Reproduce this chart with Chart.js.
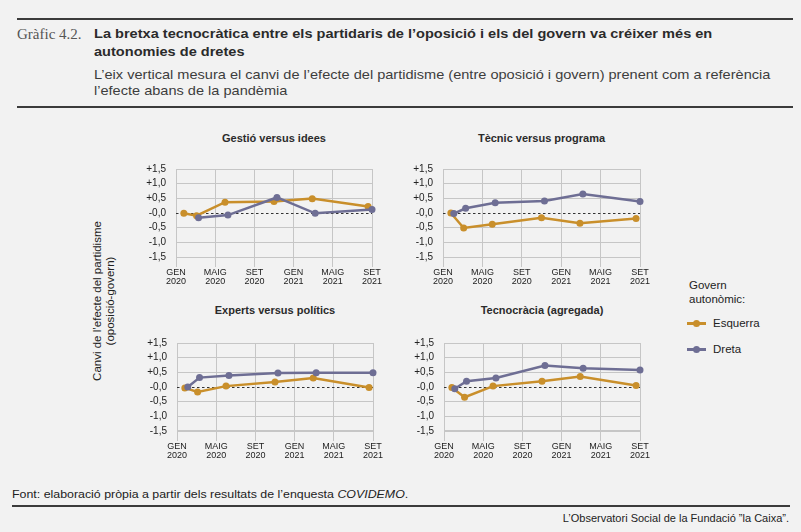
<!DOCTYPE html>
<html lang="ca">
<head>
<meta charset="UTF-8">
<title>Gràfic 4.2 - La bretxa tecnocràtica</title>
<script src="https://cdn.jsdelivr.net/npm/chart.js@4.4.0/dist/chart.umd.min.js"></script>
<style>
  html, body { margin: 0; padding: 0; }
  body {
    width: 801px; height: 532px; position: relative; overflow: hidden;
    background: #f2f2f2; color: #222;
    font-family: "Liberation Sans", Arial, sans-serif;
  }
  .txt { position: absolute; white-space: nowrap; }
  .rule { position: absolute; height: 2px; background: #3b3b3b; }
  .num { font-family: "Liberation Serif", "DejaVu Serif", serif; font-size: 15px; color: #555; line-height: 18px; }
  .title { font-weight: bold; font-size: 13.5px; color: #2b2b2b; line-height: 18px; }
  .sub { font-size: 13.5px; color: #3d3d3d; line-height: 16px; }
  .ptitle { position: absolute; font-weight: bold; font-size: 11px; color: #2b2b2b; text-align: center; line-height: 14px; }
  .panel { position: absolute; }
  .ytitle {
    position: absolute; left: 104px; top: 301px; width: 200px;
    transform: translate(-50%, -50%) rotate(-90deg);
    text-align: center; font-size: 11.5px; line-height: 13px; color: #222;
  }
  .leg { font-size: 11.5px; color: #222; line-height: 14px; }
  .legline { position: absolute; height: 2.5px; width: 19px; }
  .legdot { position: absolute; width: 7px; height: 7px; border-radius: 50%; }
  .foot { font-size: 11px; color: #222; line-height: 14px; }
</style>
</head>
<body>

<!-- Header -->
<div class="rule" style="left:17px; top:18px; width:776px;"></div>
<div class="txt num" style="left:17px; top:25px;">Gràfic 4.2.</div>
<div class="txt title fit" data-w="618" style="left:94px; top:25px;">La bretxa tecnocràtica entre els partidaris de l’oposició i els del govern va créixer més en</div>
<div class="txt title fit2" style="left:94px; top:43px;">autonomies de dretes</div>
<div class="txt sub fit" data-w="676" style="left:94px; top:67px;">L’eix vertical mesura el canvi de l’efecte del partidisme (entre oposició i govern) prenent com a referència</div>
<div class="txt sub fit2" style="left:94px; top:83px;">l’efecte abans de la pandèmia</div>
<div class="rule" style="left:17px; top:106px; width:776px;"></div>

<!-- Panels -->
<div class="ptitle" style="left:176px; top:131px; width:196px;">Gestió versus idees</div>
<div class="ptitle" style="left:443px; top:131px; width:197px;">Tècnic versus programa</div>
<div class="ptitle" style="left:177px; top:303px; width:196px;">Experts versus polítics</div>
<div class="ptitle" style="left:444px; top:303px; width:196px;">Tecnocràcia (agregada)</div>

<div class="panel" id="p1"><canvas id="c1" width="266" height="129"></canvas></div>
<div class="panel" id="p2"><canvas id="c2" width="267" height="129"></canvas></div>
<div class="panel" id="p3"><canvas id="c3" width="266" height="129"></canvas></div>
<div class="panel" id="p4"><canvas id="c4" width="266" height="129"></canvas></div>

<div class="ytitle">Canvi de l’efecte del partidisme<br>(oposició-govern)</div>

<!-- Legend -->
<div class="txt leg" style="left:689px; top:278px;">Govern</div>
<div class="txt leg" style="left:689px; top:292px;">autonòmic:</div>
<div class="legline" style="left:687px; top:322px; background:#c98f2b;"></div>
<div class="legdot" style="left:693px; top:320px; background:#c98f2b;"></div>
<div class="txt leg" style="left:713px; top:316px;">Esquerra</div>
<div class="legline" style="left:687px; top:348px; background:#6e6e94;"></div>
<div class="legdot" style="left:693px; top:346px; background:#6e6e94;"></div>
<div class="txt leg" style="left:713px; top:342px;">Dreta</div>

<!-- Footer -->
<div class="txt foot fit" data-w="396" style="left:12px; top:487px;">Font: elaboració pròpia a partir dels resultats de l’enquesta <i>COVIDEMO</i>.</div>
<div class="rule" style="left:12px; top:505px; width:778px;"></div>
<div class="txt foot" style="right:12px; top:511px;">L’Observatori Social de la Fundació ”la Caixa”.</div>

<script>
// x axis: months since January 2020
const monthTicks = [0, 4, 8, 12, 16, 20];
const tickLabels = [['GEN', '2020'], ['MAIG', '2020'], ['SET', '2020'], ['GEN', '2021'], ['MAIG', '2021'], ['SET', '2021']];
const yTicks = [-1.5, -1, -0.5, 0, 0.5, 1, 1.5];
const yTickLabels = ['-1,5', '-1,0', '-0,5', '-0,0', '+0,5', '+1,0', '+1,5'];

// survey waves (month position) per group
const esquerraMonths = [0.8, 2.1, 5.0, 10.0, 13.9, 19.6];
const dretaMonths = [1.1, 2.3, 5.3, 10.3, 14.2, 20.0];

const gestioEsquerra = [-0.01, -0.09, 0.37, 0.39, 0.49, 0.22];
const gestioDreta = [null, -0.16, -0.07, 0.53, -0.01, 0.12];
const tecnicEsquerra = [0.0, -0.51, -0.38, -0.16, -0.35, -0.19];
const tecnicDreta = [-0.02, 0.16, 0.35, 0.41, 0.65, 0.39];
const expertsEsquerra = [-0.03, -0.17, 0.03, 0.17, 0.31, -0.02];
const expertsDreta = [0.0, 0.32, 0.39, 0.48, 0.49, 0.49];
const tecnoEsquerra = [-0.02, -0.35, 0.03, 0.20, 0.36, 0.05];
const tecnoDreta = [-0.06, 0.20, 0.31, 0.73, 0.64, 0.58];

const colEsquerra = '#c98f2b';
const colDreta = '#6e6e94';
const gridColor = '#c6c6c6';

// dotted zero line
const zeroLine = {
  id: 'zeroLine',
  beforeDatasetsDraw(chart) {
    const { ctx, chartArea, scales } = chart;
    const y = Math.round(scales.y.getPixelForValue(0)) + 0.5;
    ctx.save();
    ctx.strokeStyle = '#333';
    ctx.lineWidth = 1.2;
    ctx.setLineDash([2.5, 2.5]);
    ctx.beginPath();
    ctx.moveTo(chartArea.left, y);
    ctx.lineTo(chartArea.right, y);
    ctx.stroke();
    ctx.restore();
  }
};

function toPoints(months, values) {
  return months.map((m, i) => ({ x: m, y: values[i] }));
}

function series(months, values, color, order) {
  return {
    data: toPoints(months, values),
    borderColor: color,
    backgroundColor: color,
    pointBackgroundColor: color,
    pointBorderColor: color,
    borderWidth: 2.5,
    pointRadius: 3.5,
    pointBorderWidth: 0,
    tension: 0,
    spanGaps: false,
    clip: false,
    order: order
  };
}

// area = where the plot area (GEN 2020 .. SET 2021, +1,5 .. -1,5) sits on the page
function makePanel(id, esq, dre, bottomPanel, area) {
  const chart = new Chart(document.getElementById('c' + id), {
    type: 'line',
    data: {
      datasets: [
        series(esquerraMonths, esq, colEsquerra, 2),
        series(dretaMonths, dre, colDreta, 1)
      ]
    },
    options: {
      responsive: false,
      maintainAspectRatio: false,
      animation: false,
      layout: { padding: { top: 9, right: 14, left: 0, bottom: 0 } },
      plugins: { legend: { display: false }, tooltip: { enabled: false } },
      scales: {
        x: {
          type: 'linear', min: 0, max: 20,
          afterBuildTicks: s => { s.ticks = monthTicks.map(v => ({ value: v })); },
          afterFit: s => { s.height = 32; },
          border: { display: false },
          grid: { color: gridColor, lineWidth: 1, drawTicks: true, tickLength: 10, tickColor: gridColor },
          ticks: {
            padding: 1,
            maxRotation: 0,
            autoSkip: false,
            color: '#222',
            font: { family: 'Liberation Sans', size: 9, lineHeight: 1.0 },
            callback: (v, i) => tickLabels[i]
          }
        },
        y: {
          type: 'linear', min: -1.5, max: 1.5,
          afterBuildTicks: s => { s.ticks = yTicks.map(v => ({ value: v })); },
          afterFit: s => { s.width = 56; },
          border: { display: false },
          grid: {
            drawTicks: false,
            color: c => (c.tick && c.tick.value === 0) ? 'rgba(0,0,0,0)' : gridColor,
            lineWidth: c => (bottomPanel && c.tick && c.tick.value === -1.5) ? 2 : 1
          },
          ticks: {
            padding: 10,
            autoSkip: false,
            color: '#222',
            font: { family: 'Liberation Sans', size: 10 },
            callback: (v, i) => yTickLabels[i]
          }
        }
      }
    },
    plugins: [zeroLine]
  });

  // make the plot area the wanted size, then move the canvas so it lands in place
  let ca = chart.chartArea;
  const dw = area.w - (ca.right - ca.left);
  const dh = area.h - (ca.bottom - ca.top);
  if (dw !== 0 || dh !== 0) chart.resize(chart.width + dw, chart.height + dh);
  ca = chart.chartArea;
  const box = document.getElementById('p' + id);
  box.style.left = (area.x - ca.left) + 'px';
  box.style.top = (area.y - ca.top) + 'px';
}

makePanel(1, gestioEsquerra, gestioDreta, false, { x: 176, y: 169, w: 196, h: 88 });
makePanel(2, tecnicEsquerra, tecnicDreta, false, { x: 443, y: 169, w: 197, h: 88 });
makePanel(3, expertsEsquerra, expertsDreta, true, { x: 177, y: 343, w: 196, h: 88 });
makePanel(4, tecnoEsquerra, tecnoDreta, true, { x: 444, y: 343, w: 196, h: 88 });

// squeeze long header lines to the width used in the original layout
document.querySelectorAll('.fit').forEach(el => {
  const r = Number(el.dataset.w) / el.scrollWidth;
  el.style.transformOrigin = 'left center';
  el.style.transform = 'scaleX(' + r + ')';
  const next = el.nextElementSibling;
  if (next && next.classList.contains('fit2')) {
    next.style.transformOrigin = 'left center';
    next.style.transform = 'scaleX(' + r + ')';
  }
});
</script>
</body>
</html>
